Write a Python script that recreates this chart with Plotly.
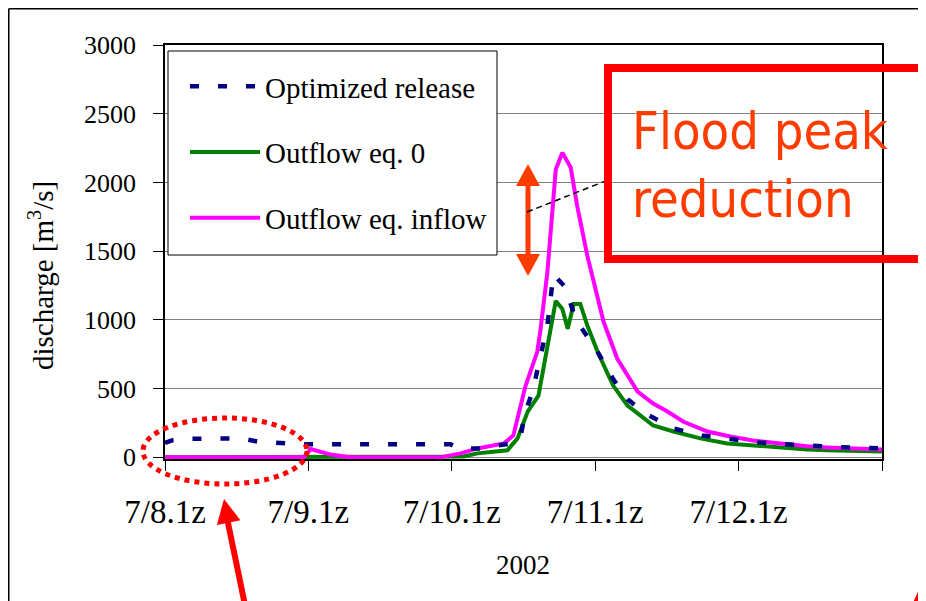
import plotly.graph_objects as go

# hours after 7/8 01z, discharge in m3/s
opt_hours = [0, 1.3, 3.5, 12.7, 15.5, 19.9, 22.7, 47.8, 49.1, 52.8, 57.8, 59.5, 60.3, 61.5,
             62.5, 64, 65, 67, 68.7, 70.7, 72.5, 75, 77.5, 80.4, 85.1, 89.9, 94.6, 99.3,
             104, 110, 115, 120]
opt_release = [105, 125, 135, 138, 115, 101, 95, 95, 65, 65, 101, 150, 330, 476,
               669, 959, 1330, 1239, 1007, 870, 760, 570, 420, 319, 210, 159, 130, 109,
               95, 80, 70, 65]

eq0_hours = [0, 48, 50, 52.3, 57.3, 59, 60.7, 62.5, 64, 65.4, 66.5, 67.4, 68.4, 69.5,
             70.7, 72.4, 75, 77.4, 79.6, 81.7, 85.1, 89.6, 94.1, 97.9, 101.8, 107.5,
             110.8, 115.8, 120]
outflow_eq0 = [0, 0, 7, 29, 51, 138, 333, 449, 812, 1138, 1080, 935, 1116, 1116,
               957, 768, 522, 377, 304, 232, 188, 138, 101, 87, 72, 58,
               51, 43, 43]

inflow_hours = [0, 23.2, 24.4, 27.7, 31, 46, 49.5, 52.3, 56.7, 58.3, 60.3, 62.3, 62.8,
                64.0, 65.4, 66.5, 67.9, 69.0, 70.7, 73.4, 75.7, 79.1, 81.7, 84.1, 86.7,
                90.8, 94.6, 98.4, 103, 107.5, 110.8, 115.2, 120]
outflow_inflow = [0, 0, 60, 20, 0, 0, 29, 65, 101, 159, 514, 768, 913,
                  1348, 2094, 2217, 2109, 1826, 1464, 986, 717, 478, 391, 333, 261,
                  188, 152, 123, 101, 80, 72, 65, 58]

tick_hours = [0, 24, 48, 72, 96, 120]
tick_labels = ["7/8.1z", "7/9.1z", "7/10.1z", "7/11.1z", "7/12.1z", ""]

SERIF = "Liberation Serif, Times New Roman, serif"
# the page body has an 8px margin, so the figure starts at (8, 8) of the window
OFF = 8
PAGE_W, PAGE_H = 926, 601
W, H = PAGE_W - OFF, PAGE_H - OFF
L, R, T, B = 165, 882, 45, 459  # plot area in window pixels


def px(x):
    return (x - L) / (R - L)


def py(y):
    return (B - y) / (B - T)


def arrow_head(tip, tail, length, half, color):
    # filled triangle pointing at tip, in window pixel coords
    dx, dy = tip[0] - tail[0], tip[1] - tail[1]
    n = (dx * dx + dy * dy) ** 0.5
    ux, uy = dx / n, dy / n
    bx, by = tip[0] - ux * length, tip[1] - uy * length
    nx, ny = -uy, ux
    pts = [tip, (bx + nx * half, by + ny * half), (bx - nx * half, by - ny * half)]
    path = "M " + " L ".join(f"{px(a):.5f},{py(b):.5f}" for a, b in pts) + " Z"
    return dict(type="path", xref="paper", yref="paper", path=path,
                fillcolor=color, line=dict(color=color, width=0))


def seg(x0, y0, x1, y1, color, width, dash="solid"):
    return dict(type="line", xref="paper", yref="paper",
                x0=px(x0), y0=py(y0), x1=px(x1), y1=py(y1),
                line=dict(color=color, width=width, dash=dash))


fig = go.Figure()
fig.add_trace(go.Scatter(
    x=eq0_hours, y=outflow_eq0, mode="lines", name="Outflow eq. 0",
    line=dict(color="#008000", width=4), legendrank=2, legendgroup="b",
))
fig.add_trace(go.Scatter(
    x=inflow_hours, y=outflow_inflow, mode="lines", name="Outflow eq. inflow",
    line=dict(color="#FF00FF", width=4), legendrank=3, legendgroup="c",
))
fig.add_trace(go.Scatter(
    x=opt_hours, y=opt_release, mode="lines", name="Optimized release",
    line=dict(color="#000080", width=4.5, dash="9px,19px"), legendrank=1,
    legendgroup="a",
))

ORANGE = "#FF3C00"
RED = "#FF0000"
shapes = [
    # outer chart frame
    seg(OFF + 0.75, OFF + 0.75, OFF + 0.75, 620, "#000000", 1.5),
    seg(OFF + 0.75, OFF + 0.75, 940, OFF + 0.75, "#000000", 1.5),
    # legend box
    dict(type="rect", xref="paper", yref="paper", layer="above",
         x0=px(168), x1=px(497), y0=py(255), y1=py(51),
         fillcolor="white", line=dict(color="#000000", width=1)),
    # dotted ellipse
    dict(type="circle", xref="paper", yref="paper",
         x0=px(143), x1=px(307), y0=py(484), y1=py(418),
         line=dict(color=RED, width=5, dash="5px,5px")),
    # arrow to ellipse
    seg(246, 610, 227, 518, RED, 6),
    arrow_head((224, 499), (246, 610), 24, 12, RED),
    seg(913, 610, 930, 572, RED, 6),
    # double arrow for peak reduction
    seg(528, 182, 528, 258, ORANGE, 5),
    arrow_head((528, 164), (528, 275), 22, 12, ORANGE),
    arrow_head((528, 276), (528, 164), 22, 12, ORANGE),
    seg(527, 212, 608, 180, "#000000", 1.5, "6px,4px"),
    # red box
    dict(type="rect", xref="paper", yref="paper",
         x0=px(608), x1=px(922), y0=py(259), y1=py(68),
         line=dict(color=RED, width=8)),
]

annotations = [
    dict(text="Flood peak<br>reduction", xref="paper", yref="paper",
         x=px(630), y=py(165), xanchor="left", yanchor="middle", align="left",
         showarrow=False,
         font=dict(family="DejaVu Sans Condensed, DejaVu Sans, sans-serif",
                   size=52, color=ORANGE)),
    dict(text="discharge [m<sup>3</sup>/s]", xref="paper", yref="paper",
         x=px(41), y=py(276), textangle=-90, showarrow=False,
         xanchor="center", yanchor="middle",
         font=dict(family=SERIF, size=29, color="#000000")),
    dict(text="2002", xref="paper", yref="paper",
         x=px(523), y=py(565), showarrow=False,
         xanchor="center", yanchor="middle",
         font=dict(family=SERIF, size=27, color="#000000")),
]

fig.update_layout(
    width=W, height=H,
    margin=dict(l=L - OFF, r=PAGE_W - R, t=T - OFF, b=PAGE_H - B, pad=0),
    paper_bgcolor="white", plot_bgcolor="white",
    showlegend=True,
    legend=dict(
        x=px(185), y=py(61), xanchor="left", yanchor="top",
        bgcolor="rgba(0,0,0,0)", borderwidth=0,
        font=dict(family=SERIF, size=29, color="#000000"),
        itemwidth=70, tracegroupgap=25,
    ),
    shapes=shapes,
    annotations=annotations,
)
fig.update_xaxes(
    range=[0, 120], tickvals=tick_hours, ticktext=tick_labels,
    showgrid=False, zeroline=False,
    showline=True, linecolor="#000000", linewidth=1.5, mirror=True,
    ticks="outside", ticklen=10, tickcolor="#000000",
    ticklabelstandoff=13,
    tickfont=dict(family=SERIF, size=33, color="#000000"),
)
fig.update_yaxes(
    range=[-12, 3000], tickvals=[0, 500, 1000, 1500, 2000, 2500, 3000],
    showgrid=True, gridcolor="#808080", gridwidth=1, zeroline=False,
    showline=True, linecolor="#000000", linewidth=1.5, mirror=True,
    ticks="outside", ticklen=10, tickcolor="#000000",
    ticklabelstandoff=12,
    tickfont=dict(family=SERIF, size=26, color="#000000"),
)

fig.write_html("out.html")
